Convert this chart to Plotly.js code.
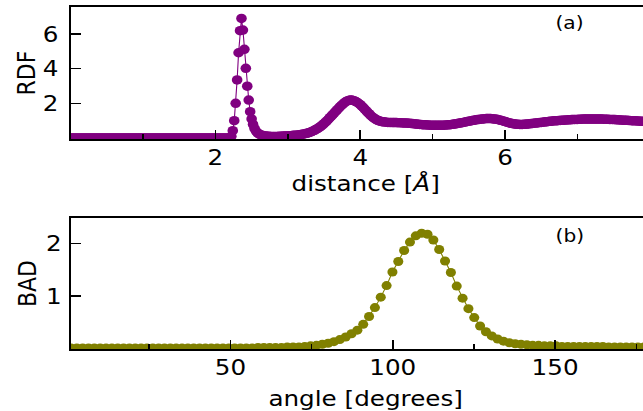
<!DOCTYPE html>
<html>
<head>
<meta charset="utf-8">
<script src="https://cdn.plot.ly/plotly-3.0.1.min.js"></script>
<style>
  html, body { margin: 0; padding: 0; overflow: hidden; background: #fff; }
  #wrap { width: 643px; height: 411px; overflow: hidden; }
  #chart { width: 590px; height: 411px; transform: scaleX(1.12); transform-origin: 0 0; }
</style>
</head>
<body>
<div id="wrap"><div id="chart"></div></div>
<script>
// ---- data ----
// RDF sampled every 0.02 Å starting at 0 Å
const rdfStep = 0.02;
const rdfValues = [
  0,0,0,0,0,0,0,0,0,0,
  0,0,0,0,0,0,0,0,0,0,
  0,0,0,0,0,0,0,0,0,0,
  0,0,0,0,0,0,0,0,0,0,
  0,0,0,0,0,0,0,0,0,0,
  0,0,0,0,0,0,0,0,0,0,
  0,0,0,0,0,0,0,0,0,0,
  0,0,0,0,0,0,0,0,0,0,
  0,0,0,0,0,0,0,0,0,0,
  0,0,0,0,0,0,0,0,0,0,
  0,0,0,0,0,0,0,0,0,0,
  0.02,0.10,0.42,1.00,2.00,3.35,4.92,6.19,6.90,6.23,
  5.12,4.02,2.99,2.19,1.52,1.10,0.78,0.55,0.40,0.30,
  0.24,0.19,0.16,0.14,0.12,0.11,0.10,0.10,0.09,0.09,
  0.09,0.09,0.09,0.09,0.10,0.10,0.10,0.11,0.11,0.12,
  0.12,0.13,0.13,0.14,0.15,0.15,0.16,0.17,0.18,0.20,
  0.21,0.23,0.25,0.27,0.29,0.32,0.35,0.39,0.43,0.47,
  0.52,0.57,0.63,0.69,0.76,0.83,0.91,0.99,1.08,1.17,
  1.26,1.35,1.44,1.53,1.62,1.71,1.80,1.88,1.96,2.03,
  2.09,2.14,2.17,2.19,2.19,2.17,2.14,2.10,2.05,1.99,
  1.92,1.84,1.76,1.67,1.58,1.49,1.40,1.32,1.24,1.17,
  1.11,1.06,1.02,0.99,0.96,0.94,0.93,0.92,0.91,0.90,
  0.90,0.90,0.89,0.89,0.89,0.89,0.88,0.88,0.88,0.87,
  0.87,0.86,0.86,0.85,0.85,0.84,0.83,0.82,0.81,0.80,
  0.79,0.78,0.78,0.77,0.76,0.76,0.75,0.75,0.74,0.74,
  0.74,0.73,0.73,0.73,0.73,0.73,0.73,0.74,0.74,0.75,
  0.75,0.76,0.77,0.78,0.79,0.80,0.82,0.83,0.85,0.86,
  0.88,0.90,0.91,0.93,0.95,0.97,0.98,1.00,1.02,1.03,
  1.05,1.06,1.07,1.08,1.09,1.10,1.11,1.12,1.12,1.12,
  1.12,1.11,1.10,1.09,1.08,1.06,1.04,1.02,1.00,0.97,
  0.95,0.92,0.90,0.87,0.85,0.83,0.82,0.80,0.79,0.79,
  0.78,0.78,0.78,0.79,0.79,0.80,0.81,0.82,0.83,0.84,
  0.85,0.86,0.87,0.88,0.89,0.90,0.91,0.92,0.93,0.94,
  0.95,0.96,0.97,0.98,0.99,0.99,1.00,1.01,1.01,1.02,
  1.03,1.03,1.04,1.04,1.05,1.05,1.06,1.06,1.07,1.07,
  1.07,1.08,1.08,1.08,1.09,1.09,1.09,1.09,1.09,1.09,
  1.09,1.09,1.09,1.09,1.09,1.09,1.09,1.09,1.08,1.08,
  1.08,1.08,1.07,1.07,1.07,1.06,1.06,1.05,1.05,1.04,
  1.04,1.03,1.03,1.02,1.02,1.01,1.01,1.00,1.00,0.99,
  0.99,0.98,0.98,0.97,0.97,0.97,0.96,0.96,0.96,0.96,
  0.96,0.96,0.96,0.96,0.96,0.96,0.96,0.96,0.96,0.96
];
const rdfDistance = rdfValues.map((_, i) => +(i * rdfStep).toFixed(2));

// BAD: 100 bins of 1.8 degrees, centres from 0.9 degrees
const badStart = 0.9, badStep = 1.8;
const badValues = [
  0.01,0.01,0.01,0.01,0.01,0.01,0.01,0.01,0.01,0.01,
  0.01,0.01,0.01,0.01,0.01,0.01,0.01,0.01,0.01,0.01,
  0.01,0.01,0.01,0.01,0.01,0.01,0.01,0.01,0.01,0.01,
  0.01,0.01,0.02,0.02,0.02,0.02,0.02,0.03,0.03,0.03,
  0.04,0.05,0.06,0.08,0.10,0.13,0.17,0.22,0.28,0.35,
  0.46,0.61,0.78,0.98,1.20,1.46,1.66,1.87,2.03,2.15,
  2.20,2.18,2.07,1.89,1.67,1.45,1.19,0.96,0.76,0.59,
  0.43,0.32,0.24,0.18,0.14,0.11,0.09,0.08,0.07,0.06,
  0.06,0.05,0.05,0.05,0.04,0.04,0.04,0.04,0.04,0.04,
  0.04,0.04,0.03,0.03,0.03,0.03,0.03,0.03,0.03,0.03
];
const badAngle = badValues.map((_, k) => +(badStart + k * badStep).toFixed(1));

const rdfTicks = [2, 4, 6];
const rdfMinorTicks = [1, 3, 5, 7];
const rdfYTicks = [2, 4, 6];
const badTicks = [50, 100, 150];
const badMinorTicks = [25, 75, 125, 175];
const badYTicks = [1, 2];

// ---- figure ----
const FONT = 'DejaVu Sans';
const FS = 22;
const axBase = {
  showgrid: false, zeroline: false, showline: true, linecolor: '#000',
  ticks: 'inside', tickcolor: '#000',
  tickfont: { family: FONT, size: FS, color: '#000' },
  tickmode: 'array'
};

const traces = [
  {
    x: rdfDistance, y: rdfValues, xaxis: 'x', yaxis: 'y',
    type: 'scatter', mode: 'lines+markers',
    line: { color: '#800080', width: 1 },
    marker: { color: '#800080', size: 9.5 },
    cliponaxis: true, hoverinfo: 'skip'
  },
  {
    x: badAngle, y: badValues, xaxis: 'x2', yaxis: 'y2',
    type: 'scatter', mode: 'lines+markers',
    line: { color: '#808000', width: 1 },
    marker: { color: '#808000', size: 9 },
    cliponaxis: true, hoverinfo: 'skip'
  }
];

const layout = {
  width: 590, height: 411,
  margin: { l: 62.5, r: 0, t: 7, b: 62 },
  paper_bgcolor: '#fff', plot_bgcolor: '#fff',
  showlegend: false,
  font: { family: FONT, color: '#000' },
  xaxis: Object.assign({}, axBase, {
    domain: [0, 1], anchor: 'y', range: [0, 8.15],
    tickvals: rdfTicks, ticklen: 9, tickwidth: 1.34, linewidth: 1.6, mirror: true,
    ticklabelstandoff: -2,
    minor: { tickmode: 'array', tickvals: rdfMinorTicks, ticks: 'inside', ticklen: 5, tickwidth: 1.34, tickcolor: '#000' },
    title: { text: 'distance [<i>Å</i>]', font: { family: FONT, size: FS, color: '#000' }, standoff: 2 }
  }),
  yaxis: Object.assign({}, axBase, {
    domain: [0.614, 1], anchor: 'x', range: [-0.06, 7.56],
    tickvals: rdfYTicks, ticklen: 8.9, tickwidth: 1.5, linewidth: 1.43,
    ticklabelstandoff: 5,
    title: { text: 'RDF', font: { family: FONT, size: FS, color: '#000' }, standoff: 0 }
  }),
  xaxis2: Object.assign({}, axBase, {
    domain: [0, 1], anchor: 'y2', range: [0.77, 182.55],
    tickvals: badTicks, ticklen: 9, tickwidth: 1.34, linewidth: 1.6, mirror: true,
    ticklabelstandoff: -2,
    minor: { tickmode: 'array', tickvals: badMinorTicks, ticks: 'inside', ticklen: 5, tickwidth: 1.34, tickcolor: '#000' },
    title: { text: 'angle [degrees]', font: { family: FONT, size: FS, color: '#000' }, standoff: 11 }
  }),
  yaxis2: Object.assign({}, axBase, {
    domain: [0, 0.383], anchor: 'x2', range: [-0.01, 2.49],
    tickvals: badYTicks, ticklen: 8.9, tickwidth: 1.5, linewidth: 1.43,
    ticklabelstandoff: 2,
    title: { text: 'BAD', font: { family: FONT, size: FS, color: '#000' }, standoff: 2 }
  }),
  annotations: [
    { text: '(a)', xref: 'paper', yref: 'paper', x: 0.845, y: 0.956, xanchor: 'center', yanchor: 'middle',
      showarrow: false, font: { family: FONT, size: 18, color: '#000' } },
    { text: '(b)', xref: 'paper', yref: 'paper', x: 0.845, y: 0.332, xanchor: 'center', yanchor: 'middle',
      showarrow: false, font: { family: FONT, size: 18, color: '#000' } }
  ]
};

Plotly.newPlot('chart', traces, layout, { staticPlot: true, displayModeBar: false });
</script>
</body>
</html>
